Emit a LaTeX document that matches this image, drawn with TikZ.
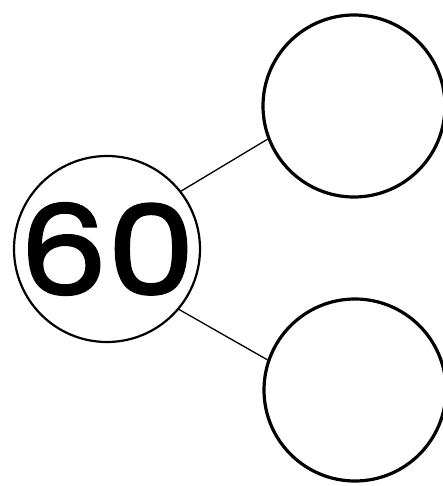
\documentclass[tikz,border=0pt]{standalone}
\usepackage{fontspec}
\newfontfamily\numfont{Poppins}[FakeBold=2]

\begin{document}
\begin{tikzpicture}[
    x=1pt, y=-1pt,
    whole/.style={
        circle, draw=black, line width=2.2pt,
        fill=white,
        minimum size=186pt, inner sep=-40pt, align=center,
        font=\numfont\fontsize{124}{124}\selectfont
    },
    part/.style={
        circle, draw=black, line width=3.2pt,
        fill=white,
        minimum size=182pt, inner sep=0pt
    },
    line/.style={draw=black, line width=1.3pt}
]
\useasboundingbox (0,0) rectangle (443,486);

% ---------------------------------------------------------------------
% WHOLE (LEFT)
% ---------------------------------------------------------------------
\node[whole] (Whole) at (107, 249) {\scalebox{1.12}[1]{60}};

% ---------------------------------------------------------------------
% PARTS (RIGHT)
% ---------------------------------------------------------------------
\node[part] (PartTop) at (354, 106) {};
\node[part] (PartBottom) at (355, 390) {};

% ---------------------------------------------------------------------
% BRANCHES
% ---------------------------------------------------------------------
\draw[line] (Whole.38.7) -- (PartTop.201.4);
\draw[line] (Whole.-40) -- (PartBottom.161.4);

\end{tikzpicture}
\end{document}
